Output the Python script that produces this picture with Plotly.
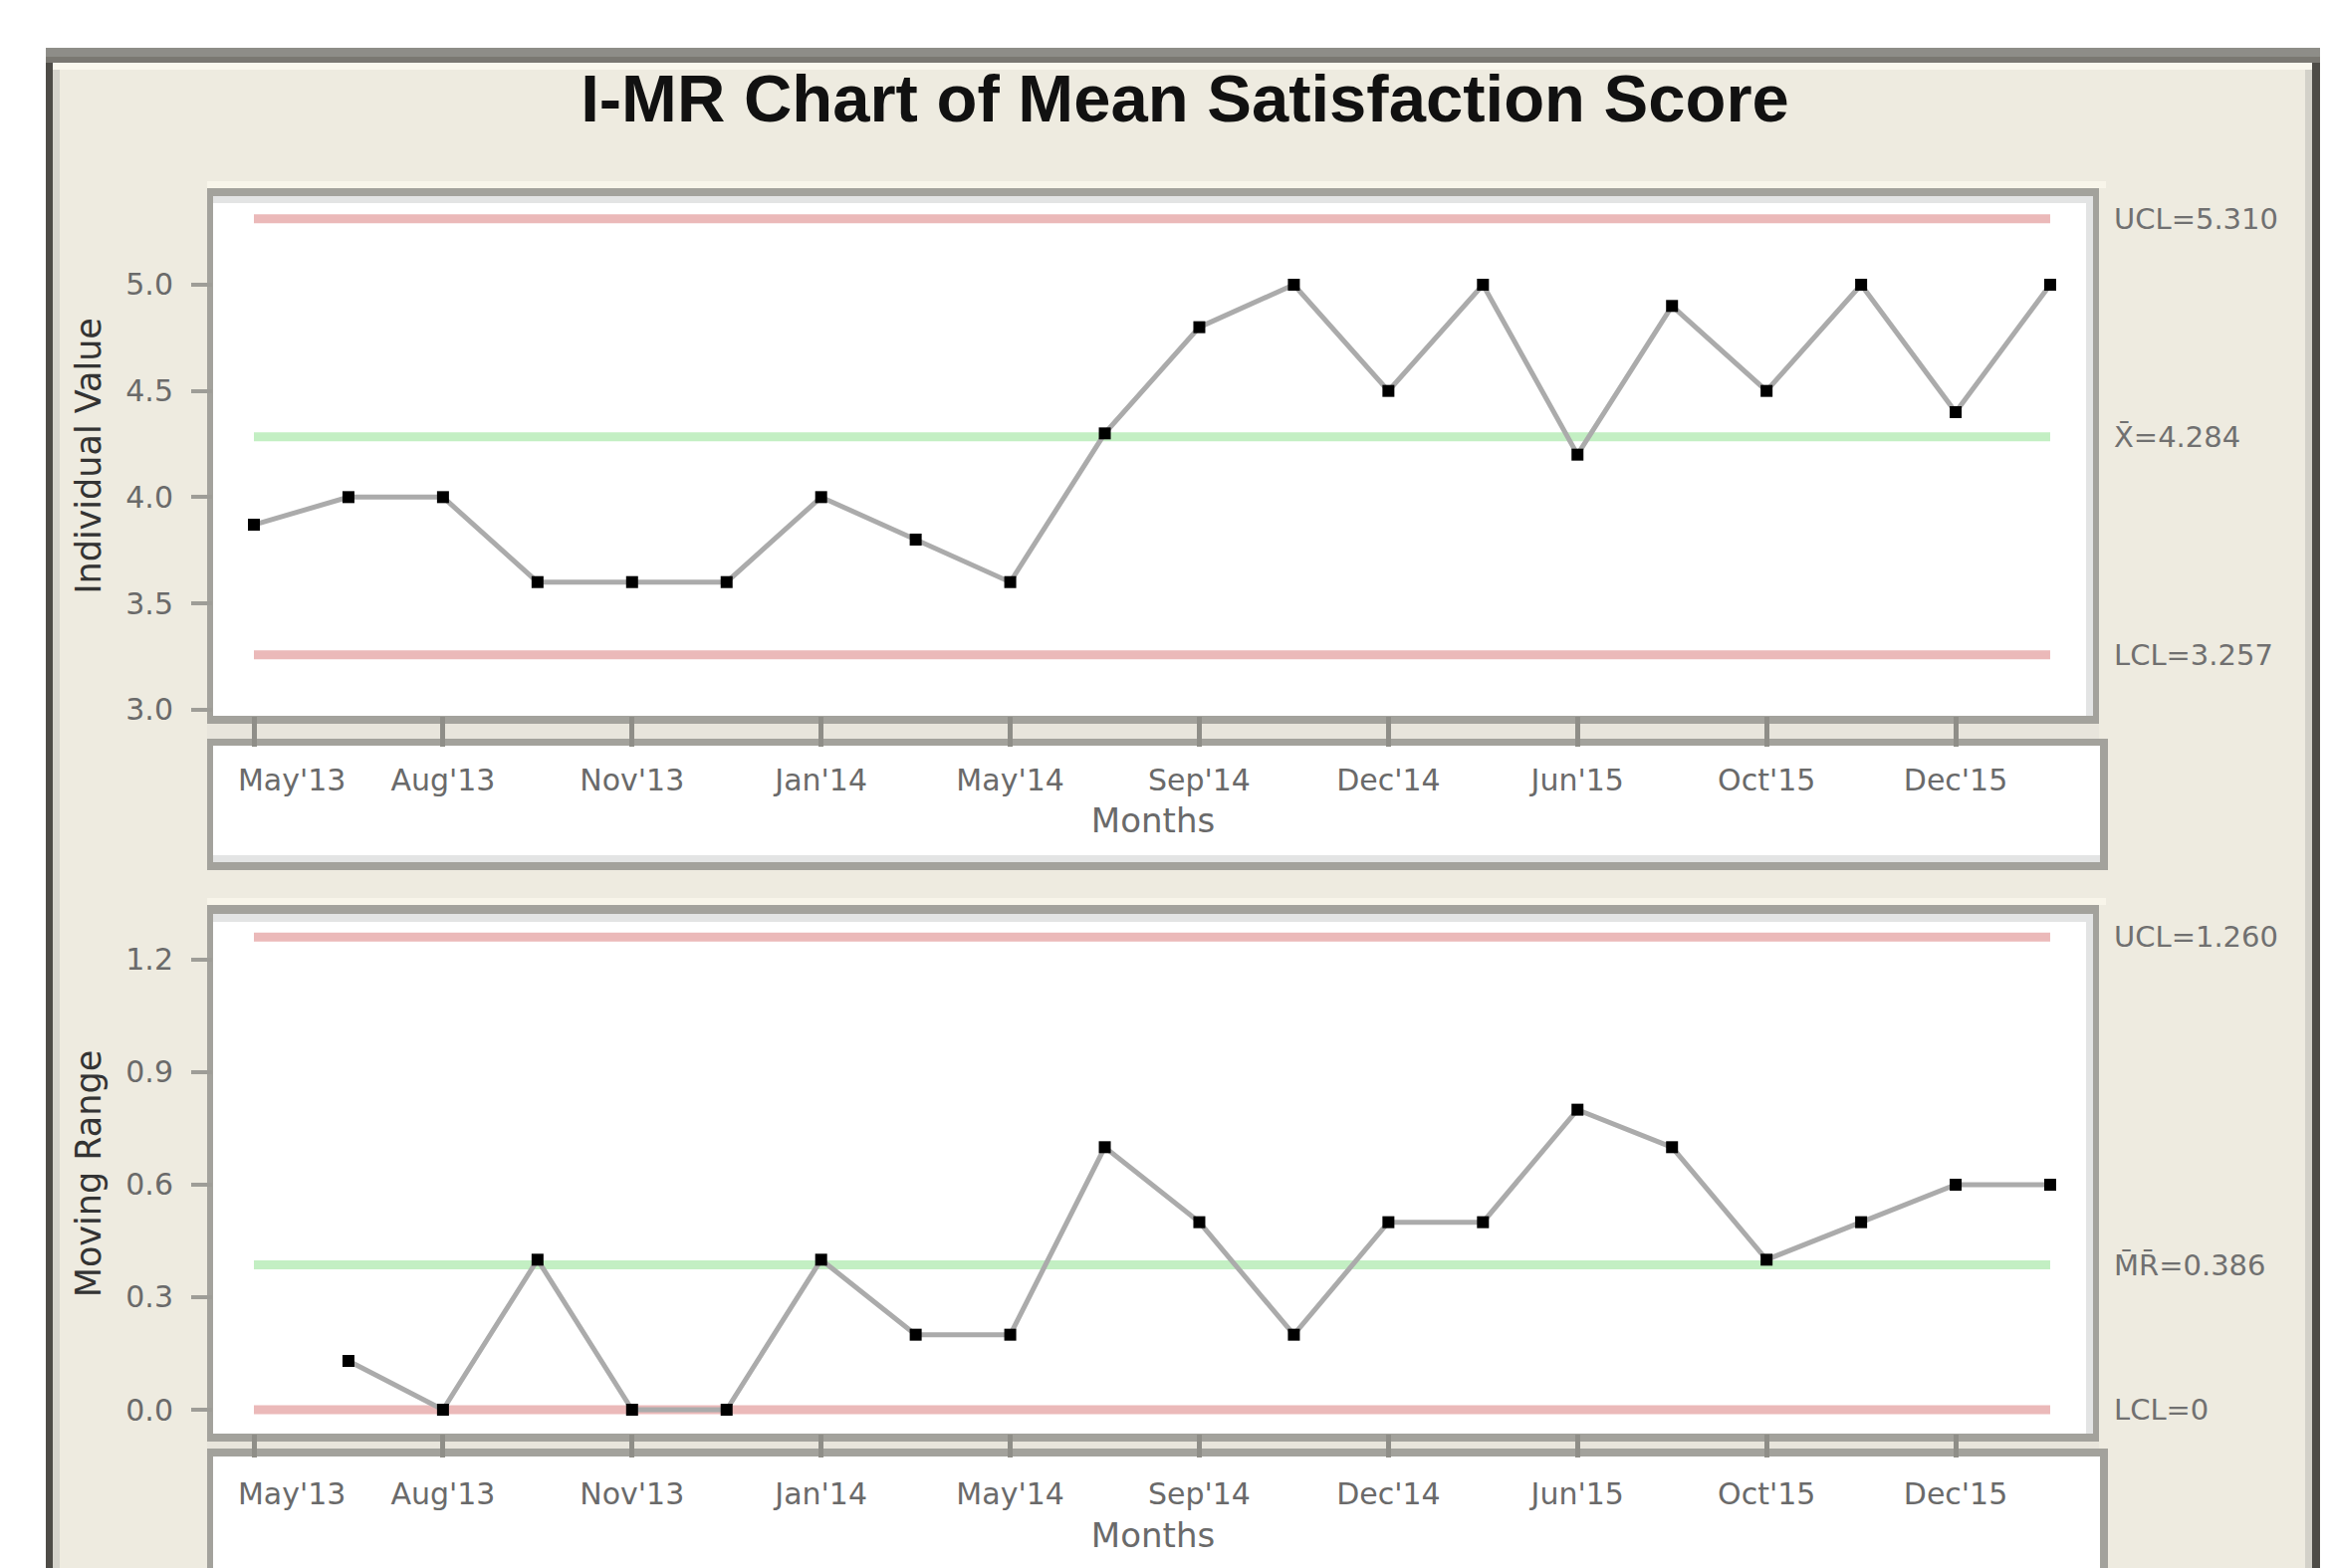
import plotly.graph_objects as go

# ---------------- data ----------------
observation = list(range(1, 21))
individual_value = [3.87, 4.0, 4.0, 3.6, 3.6, 3.6, 4.0, 3.8, 3.6, 4.3,
                    4.8, 5.0, 4.5, 5.0, 4.2, 4.9, 4.5, 5.0, 4.4, 5.0]
moving_range_obs = list(range(2, 21))
moving_range = [0.13, 0.0, 0.4, 0.0, 0.0, 0.4, 0.2, 0.2, 0.7, 0.5,
                0.2, 0.5, 0.5, 0.8, 0.7, 0.4, 0.5, 0.6, 0.6]

tick_obs = [1, 3, 5, 7, 9, 11, 13, 15, 17, 19]
tick_labels = ["May'13", "Aug'13", "Nov'13", "Jan'14", "May'14", "Sep'14",
               "Dec'14", "Jun'15", "Oct'15", "Dec'15"]

i_ticks = [3.0, 3.5, 4.0, 4.5, 5.0]
i_tick_text = ["3.0", "3.5", "4.0", "4.5", "5.0"]
mr_ticks = [0.0, 0.3, 0.6, 0.9, 1.2]
mr_tick_text = ["0.0", "0.3", "0.6", "0.9", "1.2"]

i_ucl, i_cl, i_lcl = 5.310, 4.284, 3.257
mr_ucl, mr_cl, mr_lcl = 1.260, 0.386, 0.0
i_limit_labels = ["UCL=5.310", "X\u0304=4.284", "LCL=3.257"]
mr_limit_labels = ["UCL=1.260", "M\u0304R\u0304=0.386", "LCL=0"]

title_text = "I-MR Chart of Mean Satisfaction Score"

# ---------------- styling ----------------
# the page body keeps its default 8px margin, so the figure is drawn 8px in
OFF = 8
W, H = 2340 - OFF, 1575 - OFF
FONT = "DejaVu Sans"
BEIGE = "#EEEBE0"
BORDER = "#A3A29C"
LIGHT = "#E3E4E4"
STRIP = "#E8E5DC"
RED = "#EBB9B9"
GREEN = "#C3EFC3"


def px(x):
    return (x - OFF) / W


def py(y):
    return 1 - (y - OFF) / H


def rect(x0, y0, x1, y1, color):
    return dict(type="rect", xref="paper", yref="paper", layer="below",
                x0=px(x0), x1=px(x1), y0=py(y1), y1=py(y0),
                fillcolor=color, line=dict(width=0))


shapes = [
    rect(46, 48, 2330, 1580, BEIGE),
    rect(46, 48, 53, 1580, "#4E4C47"),
    rect(53, 63, 60, 1580, "#D6D4CC"),
    rect(2315, 63, 2322, 1580, "#D3D1C9"),
    rect(2322, 48, 2330, 1580, "#4E4C47"),
    rect(46, 48, 2330, 57, "#8E8D88"),
    rect(46, 57, 2330, 63, "#7A7872"),
    rect(53, 63, 2322, 70, "#FAF8EE"),
    # upper chart box
    rect(208, 182, 2115, 189, "#F8F5EA"),
    rect(208, 189, 2108, 727, BORDER),
    rect(214, 197, 2102, 719, "white"),
    rect(214, 197, 2102, 204, LIGHT),
    rect(2095, 197, 2102, 719, LIGHT),
    rect(208, 727, 2108, 742, STRIP),
    rect(208, 742, 2117, 874, BORDER),
    rect(214, 749, 2109, 866, "white"),
    rect(214, 859, 2109, 866, LIGHT),
    # lower chart box
    rect(208, 902, 2115, 909, "#F8F5EA"),
    rect(208, 909, 2108, 1448, BORDER),
    rect(214, 918, 2102, 1440, "white"),
    rect(214, 918, 2102, 926, LIGHT),
    rect(2095, 918, 2102, 1440, LIGHT),
    rect(208, 1448, 2108, 1455, STRIP),
    rect(208, 1455, 2117, 1580, BORDER),
    rect(214, 1463, 2109, 1580, "white"),
]

fig = go.Figure()

x_first, x_last = observation[0], observation[-1]

# limit lines
for val, col, ya, xa in [(i_ucl, RED, "y", "x"), (i_cl, GREEN, "y", "x"),
                         (i_lcl, RED, "y", "x"), (mr_ucl, RED, "y2", "x2"),
                         (mr_cl, GREEN, "y2", "x2"), (mr_lcl, RED, "y2", "x2")]:
    fig.add_trace(go.Scatter(x=[x_first, x_last], y=[val, val], mode="lines",
                             line=dict(color=col, width=9), xaxis=xa, yaxis=ya,
                             hoverinfo="skip", showlegend=False, cliponaxis=False))

fig.add_trace(go.Scatter(x=observation, y=individual_value, mode="lines+markers",
                         line=dict(color="#ABABAB", width=5),
                         marker=dict(symbol="square", size=12, color="black"),
                         xaxis="x", yaxis="y", showlegend=False, cliponaxis=False))
fig.add_trace(go.Scatter(x=moving_range_obs, y=moving_range, mode="lines+markers",
                         line=dict(color="#ABABAB", width=5),
                         marker=dict(symbol="square", size=12, color="black"),
                         xaxis="x2", yaxis="y2", showlegend=False, cliponaxis=False))

annotations = []
for val, txt in zip([i_ucl, i_cl, i_lcl], i_limit_labels):
    annotations.append(dict(xref="paper", x=px(2121), xanchor="left", yref="y", y=val,
                            yanchor="middle", text=txt, showarrow=False,
                            font=dict(family=FONT, size=29, color="#707070")))
for val, txt in zip([mr_ucl, mr_cl, mr_lcl], mr_limit_labels):
    annotations.append(dict(xref="paper", x=px(2121), xanchor="left", yref="y2", y=val,
                            yanchor="middle", text=txt, showarrow=False,
                            font=dict(family=FONT, size=29, color="#707070")))

# the first month label sits a little right of its tick in the reference
shown_tick_text = ["\u00a0" * 8 + tick_labels[0]] + tick_labels[1:]

xr = [1 - (255 - 214) / 94.95, 20 + (2102 - 2059) / 94.95]
tickfont = dict(family=FONT, size=30, color="#6A6A6A")

xcommon = dict(range=xr, domain=[px(214), px(2102)], tickmode="array",
               tickvals=tick_obs, ticktext=shown_tick_text, ticks="outside",
               tickwidth=5, tickcolor="#8F8E88", showgrid=False,
               zeroline=False, showline=False, tickfont=tickfont,
               automargin=False)
ycommon = dict(ticks="outside", ticklen=21, tickwidth=4, tickcolor="#9E9D97",
               showgrid=False, zeroline=False, showline=False, tickfont=tickfont,
               tickmode="array", ticklabelstandoff=12, automargin=False)
months_font = dict(family=FONT, size=34, color="#6A6A6A")
ytitle_font = dict(family=FONT, size=35, color="#333333")

fig.update_layout(
    width=W, height=H, autosize=False,
    margin=dict(l=0, r=0, t=0, b=0, pad=0),
    paper_bgcolor="white", plot_bgcolor="rgba(0,0,0,0)",
    shapes=shapes, annotations=annotations,
    title=dict(text=title_text, x=px(1190), y=py(99), xanchor="center",
               yanchor="middle", xref="paper", yref="paper", automargin=False,
               font=dict(family="Liberation Sans", size=67, color="#111111",
                         weight="bold")),
    xaxis=dict(anchor="y", ticklen=30, ticklabelstandoff=8,
               title=dict(text="Months", standoff=12, font=months_font), **xcommon),
    xaxis2=dict(anchor="y2", ticklen=23, ticklabelstandoff=11,
                title=dict(text="Months", standoff=13, font=months_font), **xcommon),
    yaxis=dict(anchor="x", domain=[py(719), py(197)], range=[2.9705, 5.417],
               tickvals=i_ticks, ticktext=i_tick_text,
               title=dict(text="Individual Value", standoff=14, font=ytitle_font),
               **ycommon),
    yaxis2=dict(anchor="x2", domain=[py(1440), py(918)], range=[-0.0637, 1.322],
                tickvals=mr_ticks, ticktext=mr_tick_text,
                title=dict(text="Moving Range", standoff=14, font=ytitle_font),
                **ycommon),
)

fig.write_html("out.html")
